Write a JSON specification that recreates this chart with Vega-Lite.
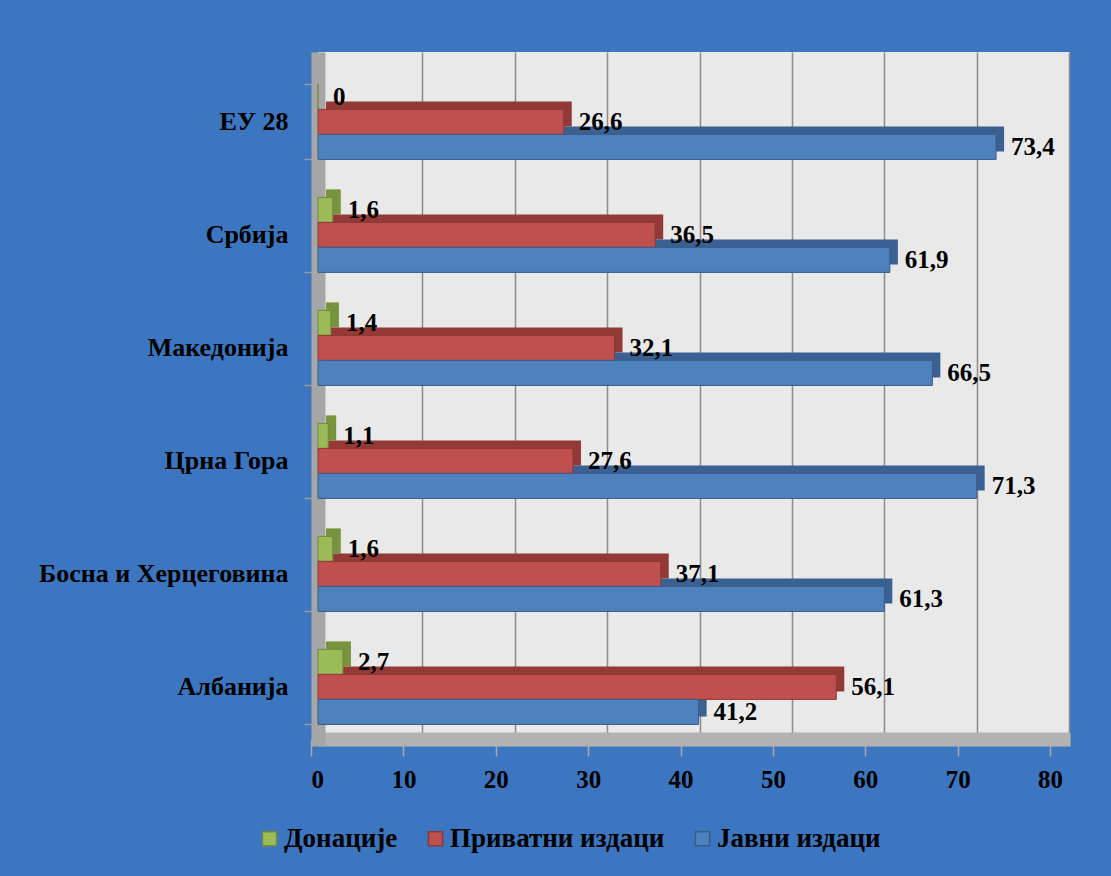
{
  "$schema": "https://vega.github.io/schema/vega-lite/v6.json",
  "width": 752,
  "height": 694,
  "autosize": {"type": "none"},
  "padding": {"left": 318, "top": 52, "right": 41, "bottom": 130},
  "background": "#3c76c0",
  "config": {
    "view": {"fill": "#e9e9e9", "stroke": null},
    "font": "Liberation Serif",
    "locale": {"number": {"decimal": ",", "thousands": ".", "grouping": [3], "currency": ["", " €"]}},
    "axis": {"labelFont": "Liberation Serif", "labelFontWeight": "bold", "labelColor": "#000000", "title": null},
    "legend": {
      "title": null,
      "orient": "none",
      "legendX": -62,
      "legendY": 773,
      "direction": "horizontal",
      "symbolType": "square",
      "symbolSize": 200,
      "symbolStrokeWidth": 1.5,
      "labelFont": "Liberation Serif",
      "labelFontSize": 27,
      "labelFontWeight": "bold",
      "labelColor": "#000000",
      "labelOffset": 1,
      "columnPadding": 24,
      "labelLimit": 400
    }
  },
  "data": {
    "values": [
      {"country": "ЕУ 28", "series": "Донације", "value": 0},
      {"country": "ЕУ 28", "series": "Приватни издаци", "value": 26.6},
      {"country": "ЕУ 28", "series": "Јавни издаци", "value": 73.4},
      {"country": "Србија", "series": "Донације", "value": 1.6},
      {"country": "Србија", "series": "Приватни издаци", "value": 36.5},
      {"country": "Србија", "series": "Јавни издаци", "value": 61.9},
      {"country": "Македонија", "series": "Донације", "value": 1.4},
      {"country": "Македонија", "series": "Приватни издаци", "value": 32.1},
      {"country": "Македонија", "series": "Јавни издаци", "value": 66.5},
      {"country": "Црна Гора", "series": "Донације", "value": 1.1},
      {"country": "Црна Гора", "series": "Приватни издаци", "value": 27.6},
      {"country": "Црна Гора", "series": "Јавни издаци", "value": 71.3},
      {"country": "Босна и Херцеговина", "series": "Донације", "value": 1.6},
      {"country": "Босна и Херцеговина", "series": "Приватни издаци", "value": 37.1},
      {"country": "Босна и Херцеговина", "series": "Јавни издаци", "value": 61.3},
      {"country": "Албанија", "series": "Донације", "value": 2.7},
      {"country": "Албанија", "series": "Приватни издаци", "value": 56.1},
      {"country": "Албанија", "series": "Јавни издаци", "value": 41.2}
    ]
  },
  "encoding": {
    "y": {
      "field": "country",
      "type": "nominal",
      "sort": ["ЕУ 28", "Србија", "Македонија", "Црна Гора", "Босна и Херцеговина", "Албанија"],
      "scale": {"paddingInner": 0.336, "paddingOuter": 0.2388, "align": 0.6},
      "axis": {
        "tickBand": "extent",
        "domainColor": "#a6a6a6",
        "domainWidth": 14,
        "tickColor": "#9a9a9a",
        "tickWidth": 1.5,
        "tickSize": 14,
        "labelFontSize": 26,
        "labelPadding": 16,
        "labelLimit": 400
      }
    }
  },
  "layer": [
    {
      "mark": {"type": "bar", "xOffset": 8, "x2Offset": 8},
      "encoding": {
        "x": {
          "field": "value",
          "type": "quantitative",
          "scale": {"domain": [0, 81.4], "nice": false},
          "axis": {
            "orient": "top",
            "values": [10, 20, 30, 40, 50, 60, 70, 80],
            "grid": true,
            "gridColor": "#8c8c8c",
            "gridWidth": 1.5,
            "tickOffset": 12,
            "labels": false,
            "ticks": false,
            "domain": false
          }
        },
        "yOffset": {
          "field": "series",
          "type": "nominal",
          "sort": ["Донације", "Приватни издаци", "Јавни издаци"],
          "scale": {"range": [-8, 67]}
        },
        "color": {
          "field": "series",
          "type": "nominal",
          "scale": {
            "domain": ["Јавни издаци", "Приватни издаци", "Донације"],
            "range": ["#3b6192", "#933a37", "#77933c"]
          },
          "legend": null
        }
      }
    },
    {
      "mark": {"type": "bar", "strokeWidth": 1},
      "encoding": {
        "x": {
          "field": "value",
          "type": "quantitative",
          "axis": {
            "orient": "bottom",
            "values": [0, 10, 20, 30, 40, 50, 60, 70, 80],
            "grid": false,
            "offset": -7,
            "tickOffset": -7,
            "domainColor": "#b3b3b3",
            "domainWidth": 14,
            "tickColor": "#a8a8a8",
            "tickWidth": 1.5,
            "tickSize": 17,
            "labelFontSize": 25,
            "labelPadding": 11,
            "format": "d"
          }
        },
        "yOffset": {
          "field": "series",
          "type": "nominal",
          "sort": ["Донације", "Приватни издаци", "Јавни издаци"]
        },
        "fill": {
          "field": "series",
          "type": "nominal",
          "title": null,
          "scale": {
            "domain": ["Донације", "Приватни издаци", "Јавни издаци"],
            "range": ["#9bbb59", "#c0504d", "#4f81bd"]
          }
        },
        "stroke": {
          "field": "series",
          "type": "nominal",
          "title": null,
          "scale": {
            "domain": ["Донације", "Приватни издаци", "Јавни издаци"],
            "range": ["#71893f", "#8c3836", "#385d8a"]
          }
        }
      }
    },
    {
      "mark": {
        "type": "text",
        "align": "left",
        "baseline": "middle",
        "dx": 15,
        "font": "Liberation Serif",
        "fontSize": 25,
        "fontWeight": "bold",
        "color": "#000000"
      },
      "encoding": {
        "x": {"field": "value", "type": "quantitative", "axis": null},
        "yOffset": {
          "field": "series",
          "type": "nominal",
          "sort": ["Донације", "Приватни издаци", "Јавни издаци"]
        },
        "text": {"field": "value", "type": "quantitative", "format": ".1~f"}
      }
    }
  ],
  "resolve": {"axis": {"x": "independent"}, "scale": {"yOffset": "independent"}}
}
